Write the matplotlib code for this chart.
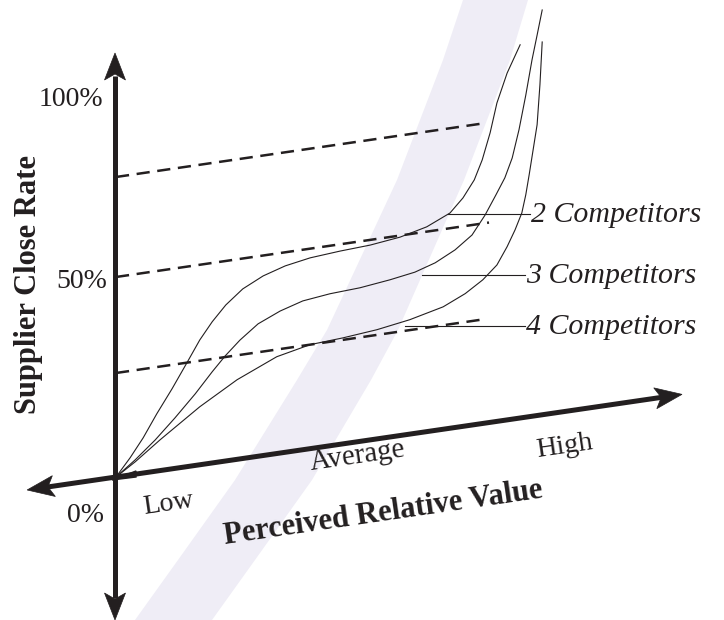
import numpy as np
import matplotlib
matplotlib.use("Agg")
import matplotlib.pyplot as plt
from matplotlib.transforms import Affine2D
from matplotlib.patches import Polygon

plt.rcParams["lines.scale_dashes"] = False
plt.rcParams["font.family"] = ["Liberation Serif", "DejaVu Serif"]

# ---------------- data ----------------
# Perceived relative value (0 = Low ... 100 = arrow tip) and supplier close rate (%)
value_2 = [0, 2.5, 4.8, 7.2, 9.9, 12.5, 14.8, 17.0, 19.4, 22.4, 26.0, 29.9, 34.3,
           39.6, 44.9, 50.2, 54.9, 59.0, 61.3, 63.3, 64.7, 66.1, 67.3, 69.1, 71.4]
rate_2 = [0, 4.3, 8.8, 14.3, 20.0, 25.9, 31.2, 35.3, 39.0, 42.4, 44.9, 46.6, 47.7,
          48.3, 48.7, 49.6, 51.2, 53.8, 57.1, 61.2, 65.9, 72.4, 79.6, 86.7, 93.3]

value_3 = [0, 3.4, 6.9, 10.4, 14.0, 17.0, 19.3, 21.9, 25.1, 29.0, 33.0, 37.8, 43.1,
           48.4, 52.8, 56.4, 59.9, 62.9, 65.2, 67.1, 68.7, 70.0, 71.2, 72.4, 73.5,
           74.4, 75.3]
rate_3 = [0, 3.6, 7.8, 12.6, 17.9, 22.8, 26.3, 29.7, 33.1, 35.5, 37.2, 38.0, 38.4,
          39.3, 40.3, 41.9, 44.4, 47.5, 52.0, 56.6, 60.6, 65.3, 72.1, 80.5, 89.1,
          95.1, 101.2]

value_4 = [0, 3.4, 7.8, 14.8, 21.4, 28.4, 34.3, 40.1, 46.1, 51.9, 57.8, 61.7, 64.8,
           67.3, 69.1, 70.5, 71.7, 72.4, 73.0, 73.7, 74.4, 74.9, 75.3]
rate_4 = [0, 3.1, 7.7, 14.5, 19.9, 24.2, 26.0, 26.5, 27.3, 28.6, 30.6, 33.1, 35.9,
          39.1, 43.3, 47.2, 51.2, 55.6, 60.5, 66.6, 72.7, 82.6, 93.2]

series_labels = ["2 Competitors", "3 Competitors", "4 Competitors"]

dash_rates = [26, 50, 75]
dash_end_values = [65.0, 65.9, 64.5]

tick_labels = ["0%", "50%", "100%"]
value_labels = ["Low", "Average", "High"]

# highlighted band (figure pixel rows and left/right edges)
band_y = [0, 60, 180, 330, 380, 480, 560, 620]
band_left = [463, 443, 397, 327, 297, 235, 178, 135]
band_right = [528, 510, 464, 398, 371, 312, 255, 212]

# ---------------- figure ----------------
W, H = 724, 620
fig = plt.figure(figsize=(W / 100, H / 100), dpi=100)
ax = fig.add_axes([0, 0, 1, 1])
ax.set_xlim(0, W)
ax.set_ylim(H, 0)
ax.axis("off")

INK = "#231f20"
base = Affine2D.from_values(5.66, -0.8264, 0, -4.0, 116, 477)
skew = base + ax.transData

ax.fill_betweenx(band_y, band_left, band_right, color="#efedf6", lw=0, zorder=0)

for v, r in [(value_2, rate_2), (value_3, rate_3), (value_4, rate_4)]:
    ax.plot(v, r, transform=skew, color=INK, lw=0.8, zorder=3,
            solid_joinstyle="round")

for r, ve in zip(dash_rates, dash_end_values):
    ax.plot([0, ve], [r, r], transform=skew, color=INK, lw=1.8,
            ls=(0, (9.5, 5.5)), zorder=2)


def arrowhead(tip, direction, length=27, half=10.5, notch=6):
    tip = np.asarray(tip, float)
    d = np.asarray(direction, float)
    d = d / np.hypot(*d)
    n = np.array([-d[1], d[0]])
    back = tip - d * length
    pts = [tip, back + n * half, tip - d * (length - notch), back - n * half]
    ax.add_patch(Polygon(pts, closed=True, fc=INK, ec=INK, lw=0.5, zorder=5))


# vertical axis
ax.plot([115, 115], [598, 76], color=INK, lw=3.6, zorder=4, solid_capstyle="butt")
arrowhead((115, 53), (0, -1))
arrowhead((115, 620), (0, 1))

# horizontal (skewed) axis
ax.plot([-13.5, 97], [0, 0], transform=skew, color=INK, lw=3.6, zorder=4,
        solid_capstyle="butt")
tip_r = base.transform((100, 0))
tip_l = base.transform((-15.7, 0))
dvec = base.transform((1, 0)) - base.transform((0, 0))
arrowhead(tip_r, dvec)
arrowhead(tip_l, -dvec)
o = base.transform((0, 0))
ax.add_patch(Polygon([o + [-4, 3], o + [20, -6], o + [20, 0]], closed=True,
                     fc=INK, ec=INK, lw=1, zorder=5))

# tick labels on the close-rate axis
tick_pos = [(104, 515), (107, 281), (103, 99)]
for t, (x, y) in zip(tick_labels, tick_pos):
    ax.text(x, y, t, ha="right", va="center", fontsize=20, color=INK)

# labels along value axis
ang = np.degrees(np.arctan2(0.8264, 5.66))
val_pos = [(168, 504), (358, 456), (565, 447)]
val_size = [20, 21, 20.5]
for t, (x, y), s in zip(value_labels, val_pos, val_size):
    ax.text(x, y, t, ha="center", va="center", fontsize=s, color=INK,
            rotation=ang, rotation_mode="anchor")

# axis titles
ax.text(29, 284, "Supplier Close Rate", rotation=90, ha="center", va="center",
        fontsize=22, fontweight="bold", color=INK)
ax.text(383, 513, "Perceived Relative Value", rotation=ang, rotation_mode="anchor",
        ha="center", va="center", fontsize=22, fontweight="bold", color=INK)

# series labels with leader lines
leaders = [(448, 530, 214), (422, 525, 275), (405, 525, 326)]
for lab, (x0, x1, y) in zip(series_labels, leaders):
    ax.plot([x0, x1], [y, y], color=INK, lw=0.8, zorder=3)
    ax.text(x1 + 1, y + 1, lab, ha="left", va="center", fontsize=21.5,
            style="italic", color=INK)

fig.savefig("out.png", dpi=100)
